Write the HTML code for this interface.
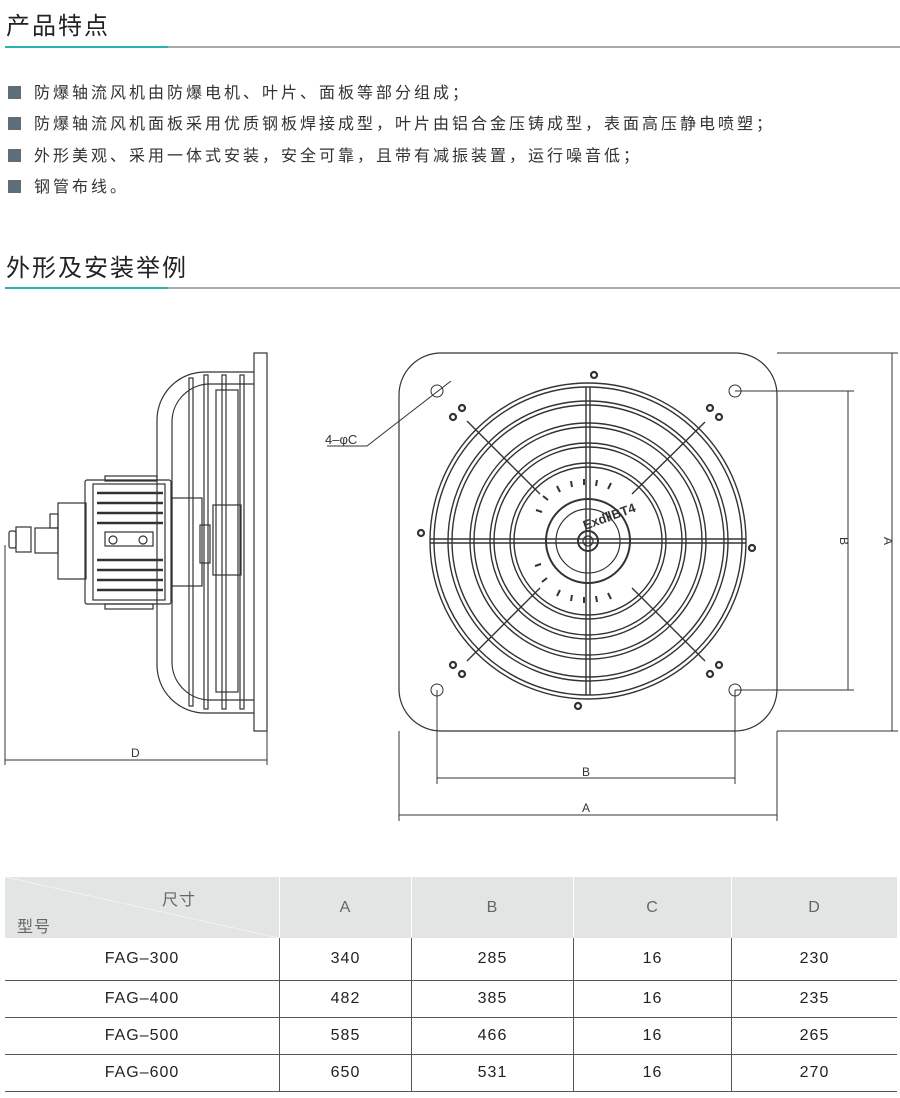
<!DOCTYPE html>
<html><head><meta charset="utf-8"><style>
body{margin:0;width:900px;height:1098px;background:#fff;position:relative;font-family:"Liberation Sans","Noto Sans CJK SC",sans-serif;overflow:hidden}
.t{position:absolute;left:6px;font-size:24px;color:#222;letter-spacing:2px}
.ln{position:absolute;left:5px;width:895px;height:2px;background:#aaa}
.ln i{display:block;width:163px;height:2px;background:#2bb3ad}
.b{position:absolute;left:8px;font-size:16px;color:#333;letter-spacing:3px}
.b:before{content:"";display:inline-block;width:13px;height:13px;background:#5d6e78;margin-right:13px;vertical-align:-1px}
table{position:absolute;left:5px;top:877px;border-collapse:collapse;font-size:16px;color:#222;letter-spacing:1px}
td{text-align:center;border-bottom:1px solid #555;border-left:1px solid #555;height:36px;padding:0}
td:first-child{border-left:none}
tr.h td{background:#e3e4e4;color:#666;height:61px;border-left:1px solid #fff;border-bottom:none}
tr.h td:first-child{border-left:none}
</style></head><body>
<div class="t" style="top:6px">产品特点</div>
<div class="ln" style="top:46px"><i></i></div>
<div class="b" style="top:79px">防爆轴流风机由防爆电机、叶片、面板等部分组成；</div>
<div class="b" style="top:110px">防爆轴流风机面板采用优质钢板焊接成型，叶片由铝合金压铸成型，表面高压静电喷塑；</div>
<div class="b" style="top:142px">外形美观、采用一体式安装，安全可靠，且带有减振装置，运行噪音低；</div>
<div class="b" style="top:173px">钢管布线。</div>
<div class="t" style="top:248px">外形及安装举例</div>
<div class="ln" style="top:287px"><i></i></div>

<svg style="position:absolute;left:0;top:0" width="900" height="870" fill="none" stroke="#333" stroke-width="1.2">
<rect x="254" y="353" width="13" height="378"/>
<path d="M254 372 H205 A48 48 0 0 0 157 420 V665 A48 48 0 0 0 205 713 H254"/>
<path d="M254 384 H210 A38 38 0 0 0 172 422 V662 A38 38 0 0 0 210 700 H254"/>
<rect x="189" y="378" width="4" height="328"/><rect x="204" y="375" width="4" height="334"/>
<rect x="222" y="375" width="4" height="334"/><rect x="240" y="375" width="4" height="334"/>
<rect x="216" y="390" width="22" height="302"/>
<rect x="213" y="505" width="28" height="70"/>
<rect x="172" y="498" width="30" height="88"/>
<rect x="200" y="525" width="10" height="38"/>
<rect x="85" y="480" width="86" height="124" rx="2"/>
<rect x="93" y="484" width="72" height="116"/>
<g stroke-width="2.5"><path d="M97 493H163M97 503H163M97 513H163M97 523H163M97 560H163M97 570H163M97 580H163M97 590H163"/></g>
<rect x="105" y="532" width="48" height="14"/><circle cx="113" cy="540" r="4"/><circle cx="143" cy="540" r="4"/>
<rect x="105" y="476" width="52" height="5"/><rect x="105" y="604" width="48" height="5"/>
<rect x="58" y="503" width="28" height="76"/><rect x="35" y="528" width="23" height="25"/>
<rect x="50" y="514" width="8" height="14"/>
<rect x="16" y="527" width="15" height="25"/><rect x="9" y="531" width="7" height="17" rx="2"/>
<g stroke-width="1"><path d="M5 545 V765"/><path d="M267 731 V765"/><path d="M5 760 H267"/></g>
<rect x="399" y="353" width="378" height="378" rx="42"/>
<g stroke-width="1.4">
<circle cx="588" cy="541" r="158"/><circle cx="588" cy="541" r="154"/>
<circle cx="588" cy="541" r="140"/><circle cx="588" cy="541" r="136"/>
<circle cx="588" cy="541" r="118"/><circle cx="588" cy="541" r="114"/>
<circle cx="588" cy="541" r="98"/><circle cx="588" cy="541" r="94"/>
<circle cx="588" cy="541" r="78"/><circle cx="588" cy="541" r="74"/>
<path d="M586 387V695M590 387V695M430 539H746M430 543H746"/>
<path d="M467 421L540 494M705 422L632 494M467 661L540 588M705 661L632 588"/>
</g>
<circle cx="588" cy="541" r="42" stroke-width="2"/><circle cx="588" cy="541" r="32"/>
<circle cx="588" cy="541" r="10" stroke-width="2"/><circle cx="588" cy="541" r="5"/>
<g stroke-width="2"><path d="M560 492l-3-6M572 487l-1-6M584 485v-6M596 486l1-6M608 489l3-6M548 500l-5-4M542 512l-6-2M541 564l-6 2M547 578l-5 4M560 590l-3 6M572 595l-1 6M584 597v6M596 596l1 6M608 593l3 6"/></g>
<text x="585" y="530" font-size="13" font-weight="bold" fill="#333" stroke="none" font-family="Liberation Sans,sans-serif" transform="rotate(-20 585 530)">ExdⅡBT4</text>
<g fill="#fff" stroke-width="2.2">
<circle cx="594" cy="375" r="3"/><circle cx="421" cy="533" r="3"/><circle cx="752" cy="548" r="3"/><circle cx="578" cy="706" r="3"/>
<circle cx="453" cy="417" r="3"/><circle cx="462" cy="408" r="3"/><circle cx="710" cy="408" r="3"/><circle cx="719" cy="417" r="3"/>
<circle cx="453" cy="665" r="3"/><circle cx="462" cy="674" r="3"/><circle cx="710" cy="674" r="3"/><circle cx="719" cy="665" r="3"/>
</g>
<g stroke-width="1"><circle cx="437" cy="391" r="6"/><circle cx="735" cy="391" r="6"/><circle cx="437" cy="690" r="6"/><circle cx="735" cy="690" r="6"/>
<path d="M327 446H367L451 381"/>
<path d="M735 391H854M735 690H854M848 391V690M777 353H898M777 731H898M892 353V731"/>
<path d="M437 690V784M735 690V784M437 778H735M399 731V821M777 731V821M399 815H777"/>
</g>
<g fill="#333" stroke="none" font-size="12" font-family="Liberation Sans,sans-serif">
<text x="131" y="757">D</text><text x="582" y="776">B</text><text x="582" y="812">A</text>
<text x="325" y="444" font-size="13">4–φC</text>
<text x="840" y="537" transform="rotate(90 840 537)">B</text>
<text x="884" y="537" transform="rotate(90 884 537)">A</text>
</g>
</svg>

<table>
<tr class="h"><td style="width:274px;position:relative;background:linear-gradient(to top right,#e3e4e4 49.6%,#fff 50%,#e3e4e4 50.4%)"><span style="position:absolute;left:157px;top:9px">尺寸</span><span style="position:absolute;left:12px;top:36px">型号</span></td><td style="width:131px">A</td><td style="width:161px">B</td><td style="width:157px">C</td><td style="width:165px">D</td></tr>
<tr><td style="height:42px">FAG–300</td><td>340</td><td>285</td><td>16</td><td>230</td></tr>
<tr><td>FAG–400</td><td>482</td><td>385</td><td>16</td><td>235</td></tr>
<tr><td>FAG–500</td><td>585</td><td>466</td><td>16</td><td>265</td></tr>
<tr><td>FAG–600</td><td>650</td><td>531</td><td>16</td><td>270</td></tr>
</table>
</body></html>
